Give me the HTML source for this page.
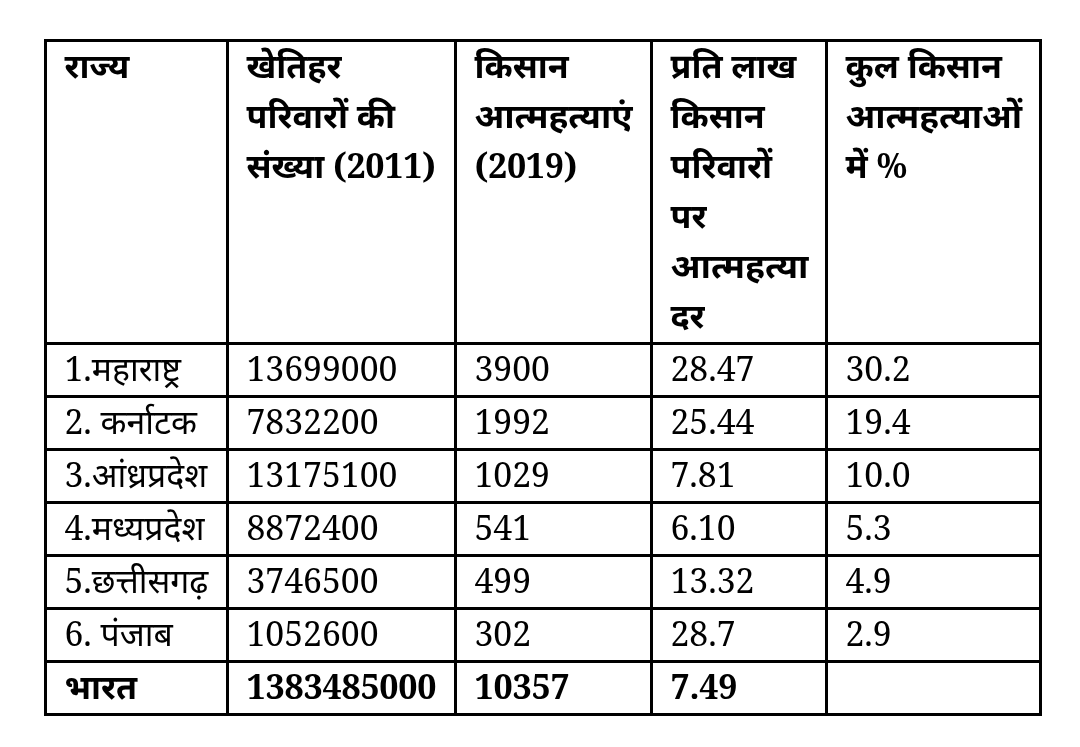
<!DOCTYPE html>
<html lang="hi">
<head>
<meta charset="utf-8">
<title>किसान आत्महत्याएं</title>
<style>
html,body{margin:0;padding:0;background:#fff;}
body{width:1080px;height:747px;position:relative;overflow:hidden;
 font-family:"Noto Serif","Liberation Serif","Noto Sans Devanagari","Noto Sans Devanagari UI","Lohit Devanagari","Mukta","FreeSerif","DejaVu Serif",serif;
 font-size:34px;line-height:50px;color:#000;}
table{will-change:transform;position:absolute;left:44px;top:39px;width:998px;height:677px;border-collapse:collapse;table-layout:fixed;}
td,th{border:3px solid #000;padding:0;vertical-align:top;text-align:left;font-weight:400;white-space:nowrap;overflow:hidden;}
td>div,th>div{position:relative;left:17.5px;top:-2.5px;}
th{font-weight:700;}
tr.h{height:303px;}
tr.r{height:53px;}
tr.b td{font-weight:700;font-size:34px;}
td{font-size:33.75px;}
.n{letter-spacing:-0.23px;}
.w{display:inline-block;transform-origin:0 50%;}
.w1{transform:translateX(-0.6px) scaleX(1.030);}
.w2{transform:translateX(-0.6px) scaleX(1.039);}
.w3{transform:translateX(-0.6px) scaleX(1.028);}
</style>
</head>
<body>
<table>
<colgroup><col style="width:182px"><col style="width:228px"><col style="width:196px"><col style="width:175px"><col style="width:214px"></colgroup>
<tr class="h"><th><div>राज्य</div></th><th><div>खेतिहर<br>परिवारों की<br>संख्या <span class="n">(2011)</span></div></th><th><div>किसान<br><span class="w w1">आत्महत्याएं</span><br><span class="n">(2019)</span></div></th><th><div>प्रति लाख<br>किसान<br>परिवारों<br>पर<br><span class="w w2">आत्महत्या</span><br>दर</div></th><th><div>कुल किसान<br><span class="w w3">आत्महत्याओं</span><br>में %</div></th></tr>
<tr class="r"><td><div>1.महाराष्ट्र</div></td><td><div>13699000</div></td><td><div>3900</div></td><td><div>28.47</div></td><td><div>30.2</div></td></tr>
<tr class="r"><td><div>2. कर्नाटक</div></td><td><div>7832200</div></td><td><div>1992</div></td><td><div>25.44</div></td><td><div>19.4</div></td></tr>
<tr class="r"><td><div>3.आंध्रप्रदेश</div></td><td><div>13175100</div></td><td><div>1029</div></td><td><div>7.81</div></td><td><div>10.0</div></td></tr>
<tr class="r"><td><div>4.मध्यप्रदेश</div></td><td><div>8872400</div></td><td><div>541</div></td><td><div>6.10</div></td><td><div>5.3</div></td></tr>
<tr class="r"><td><div>5.छत्तीसगढ़</div></td><td><div>3746500</div></td><td><div>499</div></td><td><div>13.32</div></td><td><div>4.9</div></td></tr>
<tr class="r"><td><div>6. पंजाब</div></td><td><div>1052600</div></td><td><div>302</div></td><td><div>28.7</div></td><td><div>2.9</div></td></tr>
<tr class="r b"><td><div>भारत</div></td><td><div class="n">1383485000</div></td><td><div class="n">10357</div></td><td><div class="n">7.49</div></td><td><div></div></td></tr>
</table>
</body>
</html>
